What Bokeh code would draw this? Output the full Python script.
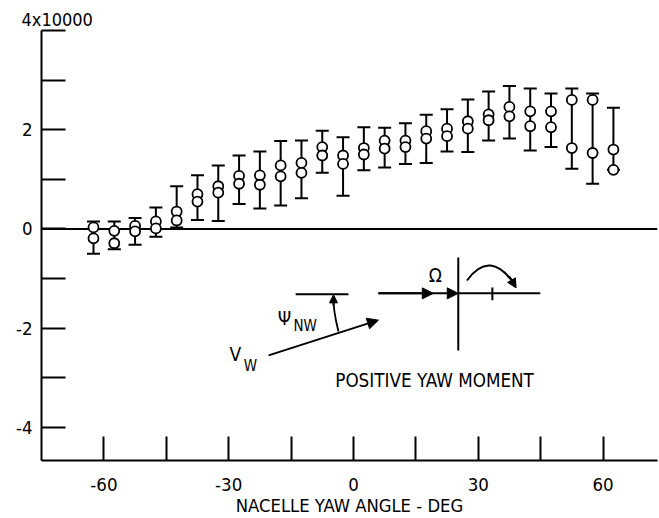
from bokeh.plotting import figure
from bokeh.models import (ColumnDataSource, Whisker, TeeHead, Span, FixedTicker, Range1d,
                          Arrow, NormalHead, Label)
from bokeh.embed import file_html
from bokeh.resources import INLINE

FONT = "'Liberation Sans Narrow', 'DejaVu Sans Condensed', 'Liberation Sans', sans-serif"

# ---- data (yaw moment x 10000 vs nacelle yaw angle) ----
yaw_deg = [-62.5, -57.5, -52.5, -47.5, -42.5, -37.5, -32.5, -27.5, -22.5, -17.5,
           -12.5, -7.5, -2.5, 2.5, 7.5, 12.5, 17.5, 22.5, 27.5, 32.5,
           37.5, 42.5, 47.5, 52.5, 57.5, 62.5]
moment_upper = [0.03, -0.04, 0.06, 0.15, 0.35, 0.70, 0.86, 1.07, 1.08, 1.28,
                1.33, 1.65, 1.48, 1.63, 1.78, 1.78, 1.97, 2.02, 2.17, 2.31,
                2.46, 2.37, 2.37, 2.60, 2.60, 1.60]
moment_lower = [-0.19, -0.29, -0.05, 0.01, 0.17, 0.55, 0.73, 0.91, 0.89, 1.06,
                1.13, 1.48, 1.31, 1.50, 1.62, 1.65, 1.82, 1.87, 2.02, 2.19,
                2.27, 2.07, 2.05, 1.63, 1.53, 1.19]
moment_max = [0.15, 0.15, 0.22, 0.43, 0.86, 1.08, 1.28, 1.48, 1.56, 1.77,
              1.78, 1.98, 1.85, 2.05, 2.04, 2.13, 2.30, 2.41, 2.61, 2.77,
              2.88, 2.83, 2.73, 2.83, 2.73, 2.44]
moment_min = [-0.50, -0.41, -0.32, -0.16, 0.03, 0.18, 0.16, 0.50, 0.41, 0.47,
              0.62, 1.13, 0.67, 1.18, 1.24, 1.31, 1.33, 1.56, 1.55, 1.78,
              1.82, 1.58, 1.65, 1.21, 0.91, 1.19]

x_ticks = [-60, -45, -30, -15, 0, 15, 30, 45, 60]
x_tick_labels = {-60: "-60", -45: "", -30: "-30", -15: "", 0: "0", 15: "", 30: "30", 45: "", 60: "60"}
y_ticks = [-4, -3, -2, -1, 0, 1, 2, 3, 4]
y_tick_labels = {-4: "-4", -3: "", -2: "-2", -1: "", 0: "0", 1: "", 2: "2", 3: "", 4: ""}
y_scale_label = "4x10000"
x_title = "NACELLE YAW ANGLE - DEG"

# ---- inset sketch geometry (data coordinates) ----
wind_arrow = dict(x0=-20.4, y0=-2.55, x1=6.0, y1=-1.84)
ref_line_x = [-13.9, -1.2]
ref_line_y = [-1.32, -1.32]
psi_arc = dict(x0=-3.6, y0=-2.07, cx=-4.9, cy=-1.64, x1=-4.8, y1=-1.38)
psi_head = dict(x0=-4.8, y0=-1.55, x1=-4.8, y1=-1.33)
omega_line = dict(x0=6.0, x1=25.2, y=-1.30, mid=19.2)
hub_vert_x = [25.2, 25.2]
hub_vert_y = [-0.575, -2.45]
hub_horz_x = [25.2, 44.9]
hub_horz_y = [-1.30, -1.30]
hub_tick_x = [33.4, 33.4]
hub_tick_y = [-1.18, -1.44]
rot_arc = dict(x0=27.3, y0=-1.04, cx=32.9, cy=-0.39, x1=38.9, y1=-1.14)
rot_head = dict(x0=37.5, y0=-0.96, x1=39.1, y1=-1.19)
sketch_texts = [
    ("\u03a9", 19.7, -0.92, "19px"),
    ("\u03a8", -16.6, -1.80, "19px"),
    ("NW", -11.6, -1.95, "15px"),
    ("V", -28.4, -2.52, "19px"),
    ("W", -24.8, -2.76, "15px"),
    ("POSITIVE YAW MOMENT", 19.5, -3.05, "18.7px"),
]

src = ColumnDataSource(dict(x=yaw_deg, up=moment_upper, lo=moment_lower,
                            hi=moment_max, mn=moment_min))

p = figure(width=659, height=518, x_range=Range1d(-75, 73.1), y_range=Range1d(-4.67, 4.0),
           output_backend="svg", toolbar_location=None,
           min_border_left=41, min_border_right=2, min_border_top=30, min_border_bottom=58)
p.grid.visible = False
p.outline_line_color = None
p.background_fill_color = "white"
p.border_fill_color = "white"

p.title.text = y_scale_label
p.title.align = "left"
p.title.offset = -20
p.title.standoff = 2
p.title.text_font = FONT
p.title.text_font_size = "18px"
p.title.text_font_style = "normal"
p.title.text_color = "black"

for ax in (p.xaxis[0], p.yaxis[0]):
    ax.axis_line_width = 2
    ax.axis_line_color = "black"
    ax.major_tick_line_width = 2
    ax.major_tick_line_color = "black"
    ax.major_tick_out = 0
    ax.major_tick_in = 24
    ax.minor_tick_line_color = None
    ax.major_label_text_font = FONT
    ax.major_label_text_font_size = "18.5px"
    ax.major_label_text_color = "black"

p.xaxis.ticker = FixedTicker(ticks=x_ticks)
p.xaxis.major_label_overrides = x_tick_labels
p.xaxis.major_label_standoff = 17
p.xaxis.axis_label = x_title
p.xaxis.axis_label_text_font = FONT
p.xaxis.axis_label_text_font_size = "18.3px"
p.xaxis.axis_label_text_font_style = "normal"
p.xaxis.axis_label_text_color = "black"
p.xaxis.axis_label_standoff = 1

p.yaxis.ticker = FixedTicker(ticks=y_ticks)
p.yaxis.major_label_overrides = y_tick_labels
p.yaxis.major_label_standoff = 9

p.add_layout(Span(location=0, dimension="width", line_color="black", line_width=2,
                  level="underlay"))

p.add_layout(Whisker(source=src, base="x", upper="hi", lower="mn",
                     line_color="black", line_width=2, level="underlay",
                     upper_head=TeeHead(size=13, line_width=2, line_color="black"),
                     lower_head=TeeHead(size=13, line_width=2, line_color="black")))

for col in ("up", "lo"):
    p.scatter("x", col, source=src, size=10, fill_color="white",
              line_color="black", line_width=1.8)

# ---- inset sketch ----
p.add_layout(Arrow(x_start=wind_arrow["x0"], y_start=wind_arrow["y0"],
                   x_end=wind_arrow["x1"], y_end=wind_arrow["y1"], line_width=2,
                   end=NormalHead(size=11, fill_color="black", line_color="black")))
p.line(ref_line_x, ref_line_y, line_width=2, color="black")
p.quadratic(x0=[psi_arc["x0"]], y0=[psi_arc["y0"]], x1=[psi_arc["x1"]], y1=[psi_arc["y1"]],
            cx=[psi_arc["cx"]], cy=[psi_arc["cy"]], line_width=1.8, line_color="black")
p.add_layout(Arrow(x_start=psi_head["x0"], y_start=psi_head["y0"],
                   x_end=psi_head["x1"], y_end=psi_head["y1"], line_width=1.8,
                   end=NormalHead(size=8, fill_color="black", line_color="black")))
p.add_layout(Arrow(x_start=omega_line["x0"], y_start=omega_line["y"],
                   x_end=omega_line["x1"], y_end=omega_line["y"], line_width=2,
                   end=NormalHead(size=11, fill_color="black", line_color="black")))
p.add_layout(Arrow(x_start=omega_line["x0"], y_start=omega_line["y"],
                   x_end=omega_line["mid"], y_end=omega_line["y"], line_width=2,
                   end=NormalHead(size=11, fill_color="black", line_color="black")))
p.line(hub_vert_x, hub_vert_y, line_width=2, color="black")
p.line(hub_horz_x, hub_horz_y, line_width=2, color="black")
p.line(hub_tick_x, hub_tick_y, line_width=2, color="black")
p.quadratic(x0=[rot_arc["x0"]], y0=[rot_arc["y0"]], x1=[rot_arc["x1"]], y1=[rot_arc["y1"]],
            cx=[rot_arc["cx"]], cy=[rot_arc["cy"]], line_width=2, line_color="black")
p.add_layout(Arrow(x_start=rot_head["x0"], y_start=rot_head["y0"],
                   x_end=rot_head["x1"], y_end=rot_head["y1"], line_width=2,
                   end=NormalHead(size=9, fill_color="black", line_color="black")))

for txt, tx, ty, fs in sketch_texts:
    p.add_layout(Label(x=tx, y=ty, text=txt, text_font=FONT, text_font_size=fs,
                       text_align="center", text_baseline="middle", text_color="black"))

open("out.html", "w").write(file_html(p, INLINE))
